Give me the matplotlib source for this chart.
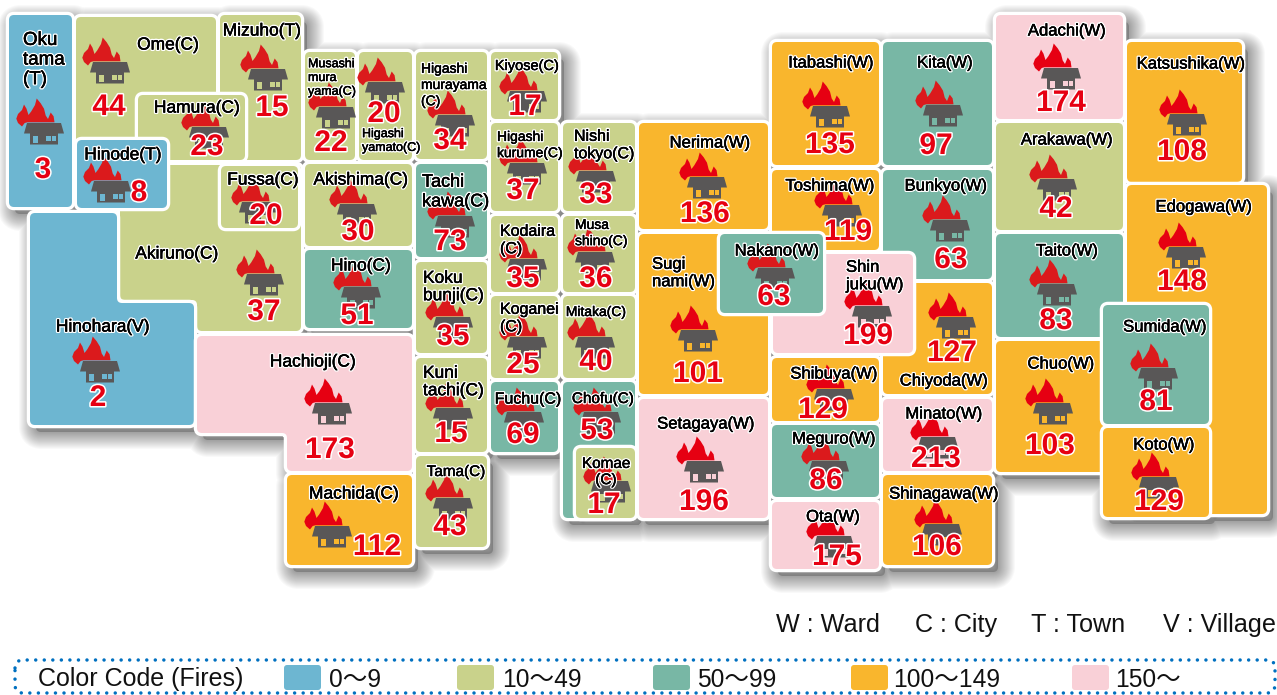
import matplotlib
matplotlib.use("Agg")
import matplotlib.pyplot as plt
import matplotlib.patheffects as pe
from matplotlib.path import Path
from matplotlib.patches import PathPatch, FancyBboxPatch
import numpy as np

# fires per municipality, drawing order = stacking order
names = ["Oku\ntama\n(T)", "Ome(C)", "Mizuho(T)", "Akiruno(C)", "Hamura(C)", "Hinode(T)", "Musashi\nmura\nyama(C)",
         "Higashi\nyamato(C)", "Fussa(C)", "Akishima(C)", "Hino(C)", "Hinohara(V)",
         "Hachioji(C)", "Machida(C)", "Higashi\nmurayama\n(C)", "Tachi\nkawa(C)", "Koku\nbunji(C)",
         "Kuni\ntachi(C)", "Tama(C)", "Kiyose(C)", "Higashi\nkurume(C)", "Kodaira\n(C)", "Koganei\n(C)",
         "Fuchu(C)", "Nishi\ntokyo(C)", "Musa\nshino(C)", "Mitaka(C)", "Chofu(C)", "Komae\n(C)",
         "Nerima(W)", "Sugi\nnami(W)", "Setagaya(W)", "Itabashi(W)", "Kita(W)", "Toshima(W)", "Bunkyo(W)",
         "Chiyoda(W)", "Shin\njuku(W)", "Nakano(W)", "Shibuya(W)", "Meguro(W)", "Ota(W)", "Minato(W)",
         "Shinagawa(W)", "Adachi(W)", "Arakawa(W)", "Taito(W)", "Chuo(W)", "Katsushika(W)", "Edogawa(W)",
         "Sumida(W)", "Koto(W)"]
fires = [3, 44, 15, 37, 23, 8, 22,
         20, 20, 30, 51, 2,
         173, 112, 34, 73, 35,
         15, 43, 17, 37, 35, 25,
         69, 33, 36, 40, 53, 17,
         136, 101, 196, 135, 97, 119, 63,
         127, 199, 63, 129, 86, 175, 213,
         106, 174, 42, 83, 103, 108, 148,
         81, 129]

bin_edges = [10, 50, 100, 150]
bin_labels = ["0〜9", "10〜49", "50〜99", "100〜149", "150〜"]
bin_colors = ["#6DB6D1", "#C9D28B", "#78B7A5", "#F9B62D", "#F9D0D7"]
flame_colors = ["#DB1A1C", "#DB1A1C", "#DB1A1C", "#E60012", "#E60012"]
unit_notes = ["W : Ward", "C : City", "T : Town", "V : Village"]

# layout in image pixels, same order as names
# outline (rect x0,y0,x1,y1 or vertex list), house anchor, count centre, label anchor, label ha, label size
layout = [
    ((9, 15, 72, 207), (44, 123), (43, 169), (23, 59), "left", 13.5),
    ((76, 17, 216, 160), (110, 62), (109, 106), (168, 44), "center", 12.5),
    ((220, 15, 301, 160), (268, 69), (272, 107), (262, 30), "center", 12.5),
    ([(120, 165), (301, 165), (301, 331), (197, 331), (197, 300), (120, 300)], (264, 274), (264, 311), (177, 253), "center", 12.5),
    ((138, 95, 245, 160), (209, 127), (207, 146), (197, 107), "center", 12.5),
    ((77, 140, 167, 208), (111, 181), (139, 192), (123, 154), "center", 12.5),
    ((305, 52, 355, 160), (336, 107), (331, 142), (308, 77), "left", 9),
    ((359, 52, 412, 160), (385, 82), (384, 113), (362, 140), "left", 9),
    ((221, 166, 298, 228), (259, 202), (266, 215), (263, 179), "center", 12.5),
    ((305, 164, 412, 246), (357, 204), (358, 231), (361, 179), "center", 12.5),
    ((305, 250, 412, 328), (361, 287), (357, 315), (361, 265), "center", 12.5),
    ([(30, 213), (117, 213), (117, 303), (194, 303), (194, 425), (30, 425)], (100, 361), (98, 397), (103, 326), "center", 12.5),
    ([(197, 336), (412, 336), (412, 471), (287, 471), (287, 433), (197, 433)], (332, 403), (330, 449), (313, 361), "center", 12.5),
    ((287, 475, 412, 565), (332, 526), (377, 546), (354, 493), "center", 12.5),
    ((416, 52, 487, 159), (455, 115), (450, 140), (421, 84), "left", 10),
    ((416, 164, 487, 257), (455, 216), (450, 241), (422, 191), "left", 13),
    ((416, 262, 487, 353), (453, 317), (453, 336), (423, 286), "left", 12.5),
    ((416, 358, 487, 452), (453, 408), (451, 433), (423, 381), "left", 12.5),
    ((416, 456, 487, 547), (453, 498), (450, 526), (456, 471), "center", 11),
    ((491, 52, 558, 119), (527, 91), (525, 106), (527, 65), "center", 10.5),
    ((491, 123, 558, 211), (527, 163), (523, 190), (497, 144), "left", 10),
    ((491, 216, 558, 292), (527, 259), (523, 278), (500, 239), "left", 11.5),
    ((491, 296, 558, 378), (527, 337), (523, 364), (500, 317), "left", 11.5),
    ((491, 382, 558, 452), (524, 412), (523, 434), (528, 398), "center", 11.5),
    ((563, 123, 635, 211), (596, 171), (596, 194), (574, 144), "left", 11.5),
    ((563, 216, 635, 292), (595, 252), (596, 278), (575, 232), "left", 10),
    ((563, 296, 635, 378), (595, 337), (596, 361), (596, 311), "center", 10),
    ((563, 382, 635, 518), (601, 412), (597, 430), (603, 398), "center", 11),
    ((576, 448, 635, 518), (611, 481), (604, 504), (606, 471), "center", 11),
    ((639, 123, 768, 229), (707, 177), (705, 213), (710, 142), "center", 12),
    ((639, 234, 768, 394), (698, 330), (698, 373), (652, 272), "left", 12),
    ((639, 399, 768, 518), (704, 461), (704, 501), (706, 423), "center", 12),
    ((772, 42, 879, 165), (830, 106), (830, 144), (831, 62), "center", 12),
    ((883, 42, 992, 165), (943, 105), (936, 145), (945, 62), "center", 12),
    ((772, 170, 879, 250), (842, 205), (848, 231), (830, 185), "center", 12),
    ((883, 170, 992, 279), (950, 220), (951, 259), (946, 185), "center", 12),
    ((883, 283, 992, 394), (956, 317), (952, 352), (944, 380), "center", 12),
    ((773, 254, 913, 353), (872, 306), (868, 335), (846, 275), "left", 12),
    ((720, 234, 823, 313), (775, 268), (774, 296), (777, 250), "center", 12),
    ((772, 358, 879, 421), (834, 389), (823, 409), (834, 373), "center", 12),
    ((772, 425, 879, 497), (829, 461), (826, 480), (834, 438), "center", 12),
    ((772, 502, 879, 569), (834, 536), (837, 556), (833, 516), "center", 12),
    ((883, 399, 992, 471), (938, 437), (936, 458), (944, 413), "center", 12),
    ((883, 475, 992, 565), (942, 524), (937, 546), (944, 493), "center", 12),
    ((996, 15, 1123, 119), (1061, 68), (1061, 102), (1067, 30), "center", 12),
    ((996, 123, 1123, 230), (1057, 179), (1056, 208), (1067, 139), "center", 12),
    ((996, 234, 1123, 337), (1057, 284), (1056, 320), (1067, 250), "center", 12),
    ((996, 341, 1123, 472), (1053, 403), (1050, 445), (1061, 363), "center", 12),
    ((1127, 42, 1242, 182), (1187, 114), (1182, 151), (1191, 63), "center", 12),
    ((1127, 185, 1267, 514), (1186, 247), (1182, 281), (1204, 206), "center", 12),
    ((1103, 305, 1209, 424), (1158, 368), (1156, 401), (1165, 326), "center", 12),
    ((1103, 428, 1209, 517), (1159, 477), (1159, 501), (1164, 444), "center", 12),
]

# icon drawn relative to the house anchor, pixels
flame_shape = [(-22, 3.5), (-26, 0), (-27.7, -4.3), (-26, -9), (-22, -13), (-20, -18.5), (-17.5, -14.3),
               (-15.5, -8), (-12.7, -11.7), (-9, -18), (-7.3, -24.5), (-3.3, -19.7), (0, -14.3),
               (1.7, -7.5), (4, -4), (6.7, -10.5), (9.6, -6.7), (10.5, -0.7), (-16.7, -0.7), (-19.3, 0)]
house_shape = [(-17, 0), (17, 0), (20, 10.5), (14, 10.5), (14, 21.5), (-14, 21.5), (-14, 10.5), (-20, 10.5)]
door_shape = [(-11.5, 13), (-6.5, 13), (-6.5, 19.5), (-11.5, 19.5)]
window_shapes = [[(2, 12.7), (6.7, 12.7), (6.7, 17.7), (2, 17.7)],
                 [(7.5, 12.7), (12, 12.7), (12, 17.7), (7.5, 17.7)]]

label_font = ["Liberation Sans Narrow", "Liberation Sans"]
plain_font = ["Liberation Sans", "Noto Sans CJK JP"]
px = 72 / 100  # one image pixel in points


def rounded(verts, r=5):
    # closed outline with rounded corners
    if len(verts) == 4 and np.isscalar(verts[0]):
        x0, y0, x1, y1 = verts
        verts = [(x0, y0), (x1, y0), (x1, y1), (x0, y1)]
    pts = np.array(verts, float)
    n = len(pts)
    out, codes = [], []
    for i in range(n):
        p, a, b = pts[i], pts[i - 1], pts[(i + 1) % n]
        s = p + (a - p) / np.linalg.norm(a - p) * r
        e = p + (b - p) / np.linalg.norm(b - p) * r
        out += [s, p, e]
        codes += [Path.MOVETO if i == 0 else Path.LINETO, Path.CURVE3, Path.CURVE3]
    out.append(out[0])
    codes.append(Path.CLOSEPOLY)
    return Path(out, codes)


def poly(shape, ox, oy, color, z):
    ax.fill([p[0] + ox for p in shape], [p[1] + oy for p in shape], color=color, lw=0, zorder=z)


fig = plt.figure(figsize=(12.77, 6.95), dpi=100)
ax = fig.add_axes([0, 0, 1, 1])
ax.set_xlim(0, 1277)
ax.set_ylim(695, 0)
ax.axis("off")

# soft shadow under everything, one compound path so the alpha does not pile up
outlines = [rounded(row[0]) for row in layout]
union = Path.make_compound_path(*[Path(p.vertices + [6, 7], p.codes) for p in outlines])
for lw in np.arange(34, 1, -2.0):
    ax.add_patch(PathPatch(union, facecolor="none", edgecolor=(0, 0, 0, 0.024), lw=lw * px, joinstyle="round", zorder=1))
ax.add_patch(PathPatch(union, facecolor=(0, 0, 0, 0.2), lw=0, zorder=1))

for i, (name, n, row) in enumerate(zip(names, fires, layout)):
    shape, house, count, lab, ha, fs = row
    b = int(np.searchsorted(bin_edges, n, side="right"))
    col = bin_colors[b]
    z = 2 + i * 0.01
    path = outlines[i]
    ax.add_patch(PathPatch(path, facecolor="white", edgecolor="white", lw=6.5 * px, joinstyle="round", zorder=z))
    ax.add_patch(PathPatch(path, facecolor=col, lw=0, zorder=z + 0.001))
    hx, hy = house
    poly(flame_shape, hx, hy, flame_colors[b], 5)
    poly(house_shape, hx, hy, "#595757", 5.1)
    poly(door_shape, hx, hy, col, 5.2)
    for w in window_shapes:
        poly(w, hx, hy, col, 5.2)
    ax.text(lab[0], lab[1] + 1, name, family=label_font, fontsize=fs, color="black", ha=ha, va="center",
            linespacing=1.2, multialignment="center" if name.startswith("Komae") else ha, zorder=6,
            path_effects=[pe.withStroke(linewidth=2.2, foreground="white"),
                          pe.withStroke(linewidth=0.3, foreground="black")])
    ax.text(count[0], count[1] + 1, str(n), family="Liberation Sans", fontweight="bold", fontsize=21.5, color="#E60012",
            ha="center", va="center", zorder=7, path_effects=[pe.withStroke(linewidth=2.2, foreground="white")])

# unit notes
for t, x in zip(unit_notes, [776, 915, 1031, 1163]):
    ax.text(x, 625, t, family=plain_font, fontsize=18.1, color="#111111", ha="left", va="center")

# legend box
frame = rounded((15, 660, 1275, 693), r=8)
ax.add_patch(PathPatch(frame, facecolor="none", edgecolor="#0070C0", lw=2.5,
                       linestyle=(0, (0.01, 2.45)), capstyle="round", zorder=3))
ax.text(38, 679, "Color Code (Fires)", family=plain_font, fontsize=18, color="#111111", ha="left", va="center")
swatch_x = [284, 457, 653, 851, 1072]
text_x = [329, 502, 697, 893, 1115]
for c, t, sx, tx in zip(bin_colors, bin_labels, swatch_x, text_x):
    ax.add_patch(FancyBboxPatch((sx + 3, 668), 31, 19, boxstyle="round,pad=3", facecolor=c, edgecolor="none", zorder=3))
    ax.text(tx, 680, t, family=plain_font, fontsize=17.7, color="#111111", ha="left", va="center")

fig.savefig("out.png", dpi=100)
